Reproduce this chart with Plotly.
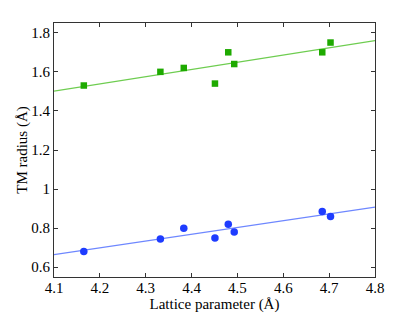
import numpy as np
import plotly.graph_objects as go

lattice = [4.165, 4.332, 4.383, 4.451, 4.480, 4.493, 4.685, 4.703]
radius_green = [1.53, 1.60, 1.62, 1.54, 1.70, 1.64, 1.70, 1.75]
radius_blue = [0.68, 0.745, 0.80, 0.75, 0.82, 0.78, 0.885, 0.86]
x_ticks = [4.1, 4.2, 4.3, 4.4, 4.5, 4.6, 4.7, 4.8]
y_ticks = [0.6, 0.8, 1.0, 1.2, 1.4, 1.6, 1.8]
y_tick_text = ["0.6", "0.8", "1", "1.2", "1.4", "1.6", "1.8"]

xfit = np.array([4.1, 4.8])
pg = np.polyfit(lattice, radius_green, 1)
pb = np.polyfit(lattice, radius_blue, 1)

fig = go.Figure()
fig.add_trace(go.Scatter(x=xfit, y=np.polyval(pg, xfit), mode="lines",
                         line=dict(color="rgb(110,205,80)", width=1.2), showlegend=False))
fig.add_trace(go.Scatter(x=xfit, y=np.polyval(pb, xfit), mode="lines",
                         line=dict(color="rgb(110,135,255)", width=1.2), showlegend=False))
fig.add_trace(go.Scatter(x=lattice, y=radius_green, mode="markers",
                         marker=dict(symbol="square", size=6.5, color="rgb(30,170,0)"), showlegend=False))
fig.add_trace(go.Scatter(x=lattice, y=radius_blue, mode="markers",
                         marker=dict(symbol="circle", size=7.5, color="rgb(30,60,255)"), showlegend=False))

font = dict(family="Liberation Serif, Times New Roman, serif", size=15, color="black")
fig.update_layout(
    width=407, height=305,
    margin=dict(l=46, r=40, t=15, b=36),
    paper_bgcolor="white", plot_bgcolor="white",
    font=font,
)
fig.update_xaxes(range=[4.1, 4.8], tickvals=x_ticks, ticktext=[f"{v:.1f}" for v in x_ticks],
                 ticks="inside", ticklen=4, tickcolor="#333", showline=True, linecolor="#333",
                 linewidth=1, mirror="ticks", showgrid=False, zeroline=False, automargin=False,
                 ticklabelstandoff=-3,
                 title=dict(text="Lattice parameter (Å)", standoff=0, font=font))
fig.update_yaxes(range=[0.55, 1.85], tickvals=y_ticks, ticktext=y_tick_text,
                 ticks="inside", ticklen=4, tickcolor="#333", showline=True, linecolor="#333",
                 linewidth=1, mirror="ticks", showgrid=False, zeroline=False, automargin=False,
                 title=dict(text="TM radius (Å)", standoff=0, font=font))
fig.write_html("out.html")
